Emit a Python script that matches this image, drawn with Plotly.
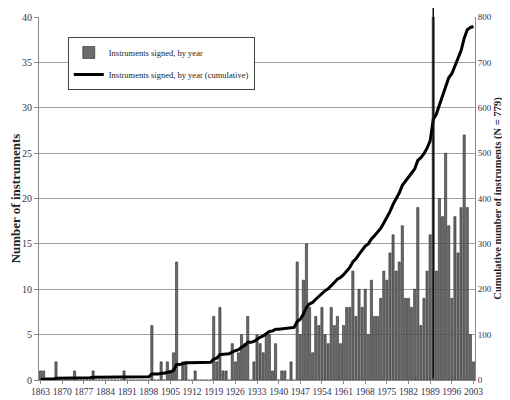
import numpy as np
import plotly.graph_objects as go

# ---- data ----
years = list(range(1863, 2004))
counts = (
    [1, 1, 0, 0, 0, 2, 0]                      # 1863-1869
    + [0, 0, 0, 0, 1, 0, 0, 0, 0, 0]           # 1870s
    + [1, 0, 0, 0, 0, 0, 0, 0, 0, 0]           # 1880s
    + [1, 0, 0, 0, 0, 0, 0, 0, 0, 6]           # 1890s
    + [0, 0, 2, 0, 2, 1, 3, 13, 0, 2]          # 1900s
    + [2, 0, 0, 1, 0, 0, 0, 0, 0, 7]           # 1910s
    + [2, 8, 1, 1, 0, 4, 2, 3, 5, 4]           # 1920s
    + [7, 0, 2, 5, 4, 3, 5, 5, 1, 4]           # 1930s
    + [0, 1, 1, 0, 2, 0, 13, 5, 11, 15]        # 1940s
    + [8, 3, 7, 6, 8, 5, 4, 8, 6, 7]           # 1950s
    + [4, 6, 8, 8, 12, 7, 10, 8, 10, 5]        # 1960s
    + [11, 7, 7, 9, 12, 11, 14, 16, 12, 13]    # 1970s
    + [17, 9, 9, 8, 10, 19, 6, 9, 12, 16]      # 1980s
    + [47, 12, 20, 18, 25, 17, 9, 18, 14, 19]  # 1990s
    + [27, 19, 5, 2]                           # 2000-2003
)
cumulative = np.cumsum(counts).tolist()

xtick_years = list(range(1863, 2004, 7))
left_ticks = list(range(0, 41, 5))
right_ticks = list(range(0, 801, 100))

bar_name = "Instruments signed, by year"
line_name = "Instruments signed, by year (cumulative)"
left_title = "Number of instruments"
right_title = "Cumulative number of instruments (N = 779)"

serif = "Liberation Serif, Times New Roman, serif"
tick_color = "#33334f"
axis_color = "#8a8a8a"

fig = go.Figure()
fig.add_trace(go.Bar(
    x=years, y=counts, name=bar_name, legendgroup="a",
    marker=dict(color="#6b6b6b", line=dict(color="#2a2a2a", width=0.6)),
))
fig.add_trace(go.Scatter(
    x=years, y=cumulative, yaxis="y2", mode="lines", name=line_name,
    legendgroup="b", line=dict(color="#000000", width=3),
))

# the one year whose bar runs beyond the top of the axis
peak_i = counts.index(max(counts))
fig.add_annotation(
    x=years[peak_i], y=counts[peak_i], xref="x", yref="y",
    ax=years[peak_i], ay=0, axref="x", ayref="y",
    text="", showarrow=True, arrowhead=0, arrowwidth=1.5, arrowcolor="#111111",
)

# the page has an 8px body margin, so the figure is sized to fit the window
fig.update_layout(
    width=502, height=392,
    template="none",
    paper_bgcolor="white", plot_bgcolor="white",
    margin=dict(l=31, r=35, t=9, b=20),
    bargap=0.3,
    showlegend=True,
    legend=dict(
        x=0.066, y=0.945, xanchor="left", yanchor="top",
        bgcolor="white", bordercolor="#444444", borderwidth=1,
        font=dict(family=serif, size=8.5, color="#222222"),
        traceorder="grouped", tracegroupgap=3,
    ),
    xaxis=dict(
        range=[1862.5, 2003.5],
        tickmode="array", tickvals=xtick_years,
        ticktext=[str(y) for y in xtick_years],
        showgrid=False, zeroline=False,
        showline=True, linecolor=axis_color, linewidth=1,
        ticks="outside", ticklen=3, tickcolor=axis_color,
        tickfont=dict(family=serif, size=9.5, color=tick_color),
        automargin=False,
    ),
    yaxis=dict(
        range=[0, 40], tickmode="array", tickvals=left_ticks,
        showgrid=True, gridcolor="#a0a0a0", gridwidth=1, zeroline=False,
        showline=True, linecolor=axis_color, linewidth=1,
        ticks="outside", ticklen=4, tickcolor=axis_color,
        tickfont=dict(family=serif, size=10, color=tick_color),
        title=dict(text="<b>" + left_title + "</b>",
                   font=dict(family=serif, size=13, color="#222222"), standoff=1),
        automargin=False,
    ),
    yaxis2=dict(
        overlaying="y", side="right",
        range=[0, 800], tickmode="array", tickvals=right_ticks,
        showgrid=False, zeroline=False,
        showline=True, linecolor=axis_color, linewidth=1,
        ticks="", 
        tickfont=dict(family=serif, size=9, color=tick_color),
        title=dict(text="<b>" + right_title + "</b>",
                   font=dict(family=serif, size=10.5, color="#222222"), standoff=0),
        automargin=False,
    ),
)

fig.write_html("out.html")
